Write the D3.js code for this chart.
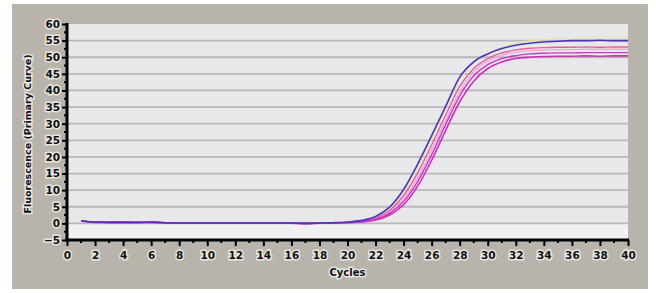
<!DOCTYPE html>
<html>
<head>
<meta charset="utf-8">
<script src="https://cdn.jsdelivr.net/npm/d3@7"></script>
<style>
  body { margin: 0; background: #fff; }
  svg { display: block; }
  .lbl { font-family: "DejaVu Sans", Verdana, sans-serif; font-weight: bold; font-size: 10.5px; fill: #111;
         stroke: #f4f4f0; stroke-width: 3px; stroke-opacity: 0.75; paint-order: stroke; }
</style>
</head>
<body>
<script>
// cycles 1..40
var cycles = d3.range(1, 41);

// fluorescence values per cycle
var blue   = [0.8,0.4,0.3,0.3,0.3,0.4,0.2,0.1,0.1,0.1,0.1,0.1,0.1,0.1,0.1,0.1,0.0,0.1,0.2,0.4,0.9,2.1,4.9,10.2,17.8,26.4,35.2,44.0,48.6,51.0,52.6,53.6,54.2,54.6,54.8,55.0,55.0,55.1,55.0,55.0];
var yellow = [0.6,0.3,0.2,0.2,0.2,0.2,0.2,0.1,0.1,0.1,0.1,0.1,0.1,0.1,0.1,0.1,0.1,0.1,0.2,0.4,0.8,1.9,4.5,9.5,16.8,25.4,34.4,43.2,48.4,51.2,53.0,54.2,54.9,55.3,55.6,55.7,55.8,55.8,55.9,55.9];
var pink   = [0.7,0.3,0.2,0.2,0.2,0.2,0.2,0.1,0.1,0.1,0.1,0.1,0.1,0.1,0.1,0.0,0.1,0.1,0.2,0.3,0.7,1.6,3.9,8.4,15.2,23.6,32.6,41.2,46.6,49.6,51.3,52.2,52.7,52.9,53.0,53.0,53.1,53.0,53.1,53.1];
var lpink  = [0.6,0.3,0.2,0.2,0.2,0.2,0.1,0.1,0.1,0.1,0.1,0.1,0.1,0.1,0.1,0.1,0.1,0.1,0.2,0.3,0.6,1.4,3.4,7.4,13.8,22.0,31.0,39.6,45.6,48.8,50.6,51.5,52.0,52.2,52.3,52.3,52.4,52.4,52.4,52.4];
var magA   = [0.8,0.4,0.4,0.4,0.3,0.4,0.2,0.1,0.1,0.1,0.1,0.1,0.1,0.1,0.1,0.0,-0.1,0.0,0.1,0.3,0.5,1.2,3.0,6.6,12.6,20.6,29.8,38.4,44.4,47.8,49.6,50.5,51.0,51.2,51.3,51.3,51.4,51.4,51.4,51.4];
var magB   = [0.7,0.3,0.3,0.3,0.3,0.3,0.2,0.1,0.1,0.1,0.1,0.1,0.1,0.1,0.1,0.1,0.0,0.1,0.1,0.2,0.4,1.0,2.5,5.6,11.2,19.0,28.0,36.6,42.8,46.6,48.6,49.6,50.0,50.2,50.3,50.3,50.4,50.3,50.4,50.4];

var series = [
  {name: "yellow", values: yellow, color: "#efe4a8", w: 1.2},
  {name: "lpink",  values: lpink,  color: "#f2a4dc", w: 1.4},
  {name: "pink",   values: pink,   color: "#e4609a", w: 1.4},
  {name: "magB",   values: magB,   color: "#d22cb8", w: 1.6},
  {name: "magA",   values: magA,   color: "#c43ac4", w: 1.4},
  {name: "blue",   values: blue,   color: "#4834c0", w: 1.6}
];

var xTicks = d3.range(0, 41, 2);
var yTicks = d3.range(-5, 61, 5);

var width = 656, height = 293;
var svg = d3.select("body").append("svg").attr("width", width).attr("height", height);

// grey frame
svg.append("rect").attr("x", 12).attr("y", 4).attr("width", 636).attr("height", 285).attr("fill", "#b8b4ab");

var x = d3.scaleLinear().domain([0, 40]).range([67, 628]);
var y = d3.scaleLinear().domain([-5, 60]).range([240, 24]);

// plot area
svg.append("rect").attr("x", x(0)).attr("y", y(60)).attr("width", x(40) - x(0)).attr("height", y(-5) - y(60)).attr("fill", "#e8e8eb");
svg.append("rect").attr("x", x(0)).attr("y", y(0)).attr("width", x(40) - x(0)).attr("height", y(-5) - y(0)).attr("fill", "#f1f1f4");

// gridlines
svg.append("g").selectAll("line").data(d3.range(0, 60, 5)).enter().append("line")
  .attr("x1", x(0)).attr("x2", x(40))
  .attr("y1", function(d) { return y(d); }).attr("y2", function(d) { return y(d); })
  .attr("stroke", "#b8b8ba").attr("stroke-width", 1.8);

// curves
var line = d3.line()
  .x(function(d, i) { return x(cycles[i]); })
  .y(function(d) { return y(d); })
  .curve(d3.curveMonotoneX);

svg.append("g").selectAll("path").data(series).enter().append("path")
  .attr("d", function(s) { return line(s.values); })
  .attr("fill", "none")
  .attr("stroke", function(s) { return s.color; })
  .attr("stroke-width", function(s) { return s.w; });

// y axis
var yAxis = d3.axisLeft(y).tickValues(yTicks).tickSize(5).tickPadding(2);
var gy = svg.append("g").attr("transform", "translate(" + x(0) + ",0)").call(yAxis);
gy.select(".domain").remove();
gy.selectAll(".tick line").attr("stroke", "#000").attr("stroke-width", 2);
gy.selectAll(".tick text").attr("class", "lbl").attr("font-family", null).attr("font-size", null);
gy.selectAll(".minor").data(d3.range(-2.5, 60, 5)).enter().append("line")
  .attr("x1", -3).attr("x2", 0)
  .attr("y1", function(d) { return y(d); }).attr("y2", function(d) { return y(d); })
  .attr("stroke", "#000").attr("stroke-width", 2);
svg.append("line").attr("x1", x(0)).attr("x2", x(0)).attr("y1", y(60) - 1).attr("y2", y(-5) + 1)
  .attr("stroke", "#000").attr("stroke-width", 3);

// x axis
var xAxis = d3.axisBottom(x).tickValues(xTicks).tickSize(6).tickPadding(6);
var gx = svg.append("g").attr("transform", "translate(0," + y(-5) + ")").call(xAxis);
gx.select(".domain").remove();
gx.selectAll(".tick line").attr("stroke", "#000").attr("stroke-width", 2);
gx.selectAll(".tick text").attr("class", "lbl").attr("font-family", null).attr("font-size", null);
gx.selectAll(".minor").data(d3.range(1, 40, 2)).enter().append("line")
  .attr("x1", function(d) { return x(d); }).attr("x2", function(d) { return x(d); })
  .attr("y1", 0).attr("y2", 3)
  .attr("stroke", "#000").attr("stroke-width", 2);
svg.append("line").attr("x1", x(0) - 1.5).attr("x2", x(40) + 1).attr("y1", y(-5)).attr("y2", y(-5))
  .attr("stroke", "#000").attr("stroke-width", 3);

// axis titles
svg.append("text").attr("class", "lbl")
  .attr("x", (x(0) + x(40)) / 2).attr("y", 276)
  .attr("text-anchor", "middle").style("font-size", "10px")
  .text("Cycles");

svg.append("text").attr("class", "lbl")
  .attr("transform", "translate(31," + ((y(60) + y(-5)) / 2 + 2) + ") rotate(-90)")
  .attr("text-anchor", "middle").style("font-size", "9.5px")
  .text("Fluorescence (Primary Curve)");
</script>
</body>
</html>
